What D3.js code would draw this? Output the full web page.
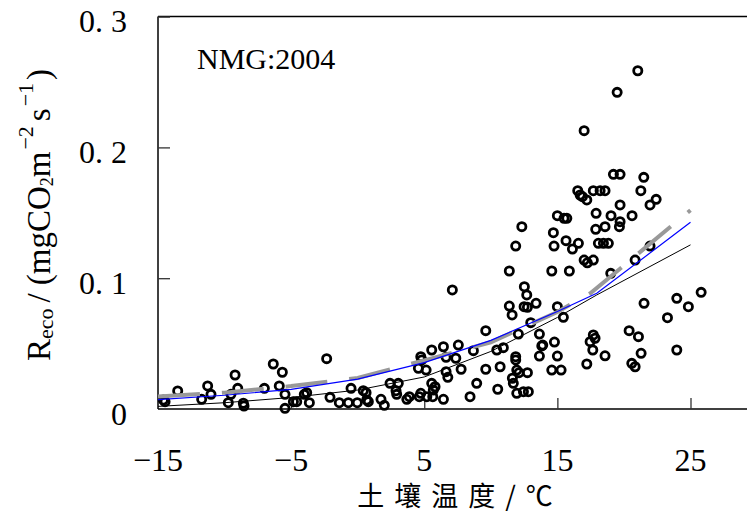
<!DOCTYPE html>
<html>
<head>
<meta charset="utf-8">
<script src="https://cdn.jsdelivr.net/npm/d3@7/dist/d3.min.js"></script>
<style>
  body { margin: 0; background: #fff; }
  svg { display: block; }
  .num { font-family: "Liberation Serif", "Times New Roman", serif; }
</style>
</head>
<body>
<svg id="chart" width="747" height="521"></svg>
<script>
// Axis ticks
const xTickValues = [-15, -5, 5, 15, 25];
const xTickLabels = ["\u221215", "\u22125", "5", "15", "25"];
const yTickValues = [0, 0.1, 0.2, 0.3];
const yTickLabels = ["0", "0. 1", "0. 2", "0. 3"];

// Observed ecosystem respiration vs soil temperature (NMG, 2004)
const obsTemp = [
  -14.60, -14.47, -13.52, -11.72, -11.27, -11.02, -9.72, -9.52, -9.21, -9.01,
  -8.59, -8.54, -7.01, -6.34, -5.66, -5.89, -5.46, -5.46, -4.83, -4.58,
  -4.01, -3.83, -3.63, -2.33, -2.08, -1.38, -0.70, -0.03, -0.50, 0.42,
  0.63, 0.68, 0.80, 1.75, 2.00, 2.43, 3.05, 2.88, 2.93, 3.69,
  3.88, 4.63, 4.74, 4.56, 4.81, 4.74, 5.14, 5.56, 5.56, 5.81,
  6.44, 6.44, 6.64, 6.77, 6.64, 5.19, 5.64, 5.68, 7.56, 7.37,
  7.77, 8.69, 8.44, 8.94, 9.62, 9.62, 7.11, 10.52, 10.45, 10.94,
  10.70, 11.62, 11.69, 11.95, 12.45, 12.82, 11.87, 11.87, 11.95, 12.12,
  12.75, 12.07, 13.00, 13.65, 13.90, 13.83, 14.78, 13.65, 15.00, 14.58,
  15.28, 11.39, 11.60, 12.52, 12.70, 12.50, 12.75, 13.40, 15.00, 15.45,
  11.39, 14.58, 15.90, 11.87, 14.75, 16.13, 15.65, 16.58, 18.08, 18.46,
  18.83, 17.01, 17.25, 17.70, 19.01, 20.84, 21.96, 12.33, 14.70, 17.88,
  18.58, 19.66, 19.71, 17.21, 17.70, 17.83, 17.46, 17.66, 18.58, 20.39,
  21.09, 21.29, 20.59, 20.84, 21.51, 23.27, 23.97, 24.84, 25.80, 23.97,
  21.04, 19.49, 17.01, 19.21, 19.71, 21.49, 16.53, 16.71, 16.88, 17.21,
  17.70, 18.21, 18.58, 21.27, 22.42, 21.96, 19.71, 17.91, 19.03, 20.61,
  15.00, 15.50, 15.71
];
const obsReco = [
  0.0069, 0.0056, 0.0138, 0.0074, 0.0176, 0.0112, 0.0048, 0.0112, 0.0260, 0.0158,
  0.0044, 0.0023, 0.0158, 0.0344, 0.0281, 0.0176, 0.0112, 0.0005, 0.0056, 0.0056,
  0.0112, 0.0125, 0.0048, 0.0385, 0.0089, 0.0048, 0.0048, 0.0048, 0.0158, 0.0140,
  0.0125, 0.0069, 0.0056, 0.0074, 0.0028, 0.0196, 0.0196, 0.0140, 0.0112, 0.0074,
  0.0094, 0.0094, 0.0120, 0.0311, 0.0375, 0.0400, 0.0298, 0.0451, 0.0196, 0.0170,
  0.0476, 0.0074, 0.0285, 0.0242, 0.0395, 0.0094, 0.0094, 0.0145, 0.0489, 0.0388,
  0.0304, 0.0446, 0.0094, 0.0196, 0.0304, 0.0599, 0.0910, 0.0151, 0.0451, 0.0469,
  0.0323, 0.0235, 0.0196, 0.0120, 0.0132, 0.0132, 0.0400, 0.0375, 0.0298, 0.0278,
  0.0278, 0.0573, 0.0660, 0.0573, 0.0489, 0.0482, 0.0512, 0.0405, 0.0405, 0.0298,
  0.0298, 0.0787, 0.0719, 0.0935, 0.0872, 0.0782, 0.0778, 0.0808, 0.0782, 0.0701,
  0.1055, 0.1055, 0.1055, 0.1246, 0.1246, 0.1223, 0.1287, 0.1267, 0.1267, 0.1267,
  0.1267, 0.1139, 0.1118, 0.1139, 0.1037, 0.1139, 0.1246, 0.1394, 0.1348, 0.1374,
  0.1394, 0.1394, 0.1432, 0.0344, 0.0566, 0.0541, 0.0515, 0.0451, 0.0407, 0.0599,
  0.0553, 0.0426, 0.0349, 0.0323, 0.0808, 0.0698, 0.0846, 0.0782, 0.0892, 0.0451,
  0.2586, 0.2421, 0.2128, 0.1794, 0.1794, 0.1771, 0.1669, 0.1636, 0.1623, 0.1598,
  0.1669, 0.1669, 0.1669, 0.1669, 0.1603, 0.1560, 0.1560, 0.1496, 0.1478, 0.1478,
  0.1478, 0.1458, 0.1458
];

// Fitted response curves
const fitTemp  = [-15, -10, -5, 0, 5, 10, 15, 17.96, 25];
const fitBlue  = [0.0072, 0.0105, 0.0150, 0.0228, 0.0355, 0.0525, 0.0745, 0.0885, 0.1427];
const fitBlack = [0.0020, 0.0048, 0.0088, 0.0145, 0.0245, 0.0440, 0.0700, 0.0872, 0.1255];
const grayTemp = [-15, -10, -5, 0, 5, 10, 15, 17.5, 25];
const fitGray  = [0.0095, 0.0125, 0.0175, 0.0237, 0.0372, 0.0510, 0.0742, 0.0886, 0.1520];

const svg = d3.select("#chart");
svg.append("rect").attr("width", 747).attr("height", 521).attr("fill", "#fff");

const x = d3.scaleLinear().domain([-15, 25]).range([158, 690.5]);
const y = d3.scaleLinear().domain([0, 0.3]).range([409, 16.6]);
const xRight = 747;

// Frame: left, top and bottom edges
const frame = svg.append("g").attr("stroke", "#000").attr("stroke-width", 1.5).attr("fill", "none");
frame.append("line").attr("x1", x(-15)).attr("x2", x(-15)).attr("y1", y(0.3)).attr("y2", y(0));
frame.append("line").attr("x1", x(-15)).attr("x2", xRight).attr("y1", y(0)).attr("y2", y(0));
frame.append("line").attr("x1", x(-15)).attr("x2", xRight).attr("y1", y(0.3)).attr("y2", y(0.3));

// Inward ticks
const xAxis = svg.append("g")
  .attr("transform", `translate(0,${y(0)})`)
  .call(d3.axisBottom(x).tickValues(xTickValues.slice(1)).tickSize(-11).tickFormat(""));
xAxis.select(".domain").remove();
xAxis.selectAll(".tick line").attr("stroke", "#333").attr("stroke-width", 1.3);

const yAxis = svg.append("g")
  .attr("transform", `translate(${x(-15)},0)`)
  .call(d3.axisLeft(y).tickValues(yTickValues.slice(1)).tickSize(-12).tickFormat(""));
yAxis.select(".domain").remove();
yAxis.selectAll(".tick line").attr("stroke", "#333").attr("stroke-width", 1.3);

// Tick labels
svg.append("g").attr("class", "num")
  .selectAll("text").data(xTickValues).join("text")
  .attr("x", d => x(d)).attr("y", 471)
  .attr("text-anchor", "middle").attr("font-size", 32).attr("fill", "#000")
  .text((d, i) => xTickLabels[i]);

svg.append("g").attr("class", "num")
  .selectAll("text").data(yTickValues).join("text")
  .attr("x", 127).attr("y", d => y(d) + 15.5)
  .attr("text-anchor", "end").attr("font-size", 32).attr("fill", "#000")
  .text((d, i) => yTickLabels[i]);

// Observations
const pts = obsTemp.map((t, i) => ({ t, r: obsReco[i] }));
svg.append("g")
  .selectAll("circle").data(pts).join("circle")
  .attr("cx", d => x(d.t)).attr("cy", d => y(d.r)).attr("r", 4.1)
  .attr("fill", "none").attr("stroke", "#000").attr("stroke-width", 2.8);

// Curves
const line = d3.line().x(d => x(d[0])).y(d => y(d[1]));
svg.append("path")
  .datum(grayTemp.map((t, i) => [t, fitGray[i]]))
  .attr("d", line).attr("fill", "none")
  .attr("stroke", "#999").attr("stroke-width", 4).attr("stroke-dasharray", "42,22");
svg.append("path")
  .datum(fitTemp.map((t, i) => [t, fitBlack[i]]))
  .attr("d", line).attr("fill", "none")
  .attr("stroke", "#000").attr("stroke-width", 1);
svg.append("path")
  .datum(fitTemp.map((t, i) => [t, fitBlue[i]]))
  .attr("d", line).attr("fill", "none")
  .attr("stroke", "#0000ff").attr("stroke-width", 1.2);

// Site label
svg.append("text").attr("class", "num")
  .attr("x", 197).attr("y", 69).attr("font-size", 30).attr("fill", "#000")
  .text("NMG:2004");

// X axis title
svg.append("text")
  .attr("x", 460).attr("y", 506)
  .attr("text-anchor", "middle")
  .attr("font-family", "'Noto Sans CJK SC', sans-serif")
  .attr("font-size", 27).attr("letter-spacing", 10).attr("fill", "#000")
  .text("土壤温度/℃");

// Y axis title
const yt = svg.append("text").attr("class", "num")
  .attr("transform", "translate(50,361) rotate(-90)")
  .attr("font-size", 33).attr("fill", "#000");
yt.append("tspan").text("R");
yt.append("tspan").attr("font-size", 22).attr("dy", 3).text("eco");
yt.append("tspan").attr("dy", -3).attr("dx", 6).text("/");
yt.append("tspan").attr("dx", 8).text("(mgCO");
yt.append("tspan").attr("font-size", 18).attr("dy", 3).text("2");
yt.append("tspan").attr("dy", -3).text("m");
yt.append("tspan").attr("font-size", 22).attr("dy", -17).attr("dx", 2).text("\u22122");
yt.append("tspan").attr("dy", 17).attr("dx", 5).text("s");
yt.append("tspan").attr("font-size", 22).attr("dy", -17).attr("dx", 2).text("\u22121");
yt.append("tspan").attr("dy", 17).attr("dx", 3).text(")");
</script>
</body>
</html>
